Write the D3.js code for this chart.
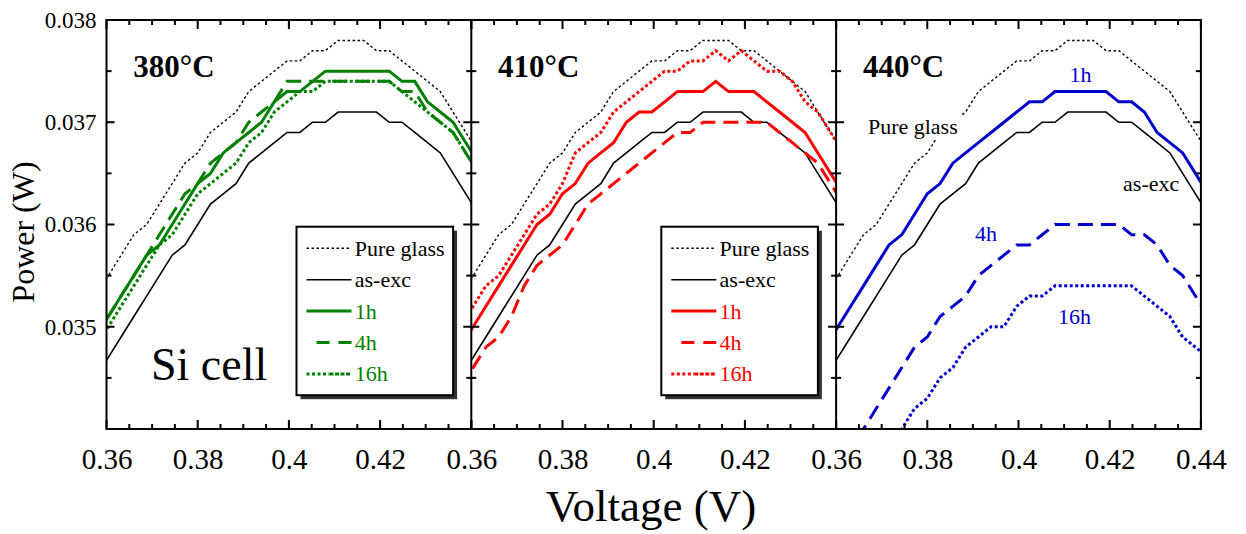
<!DOCTYPE html>
<html><head><meta charset="utf-8">
<script src="https://cdn.jsdelivr.net/npm/d3@7"></script>
<style>
body{margin:0;background:#fff}
svg{display:block}
text{font-family:"Liberation Serif","Times New Roman",serif}
</style>
</head><body>
<svg id="c" width="1246" height="534"></svg>
<script>
// ---------- data ----------
const voltage = [0.3576,0.3604,0.3632,0.3660,0.3688,0.3716,0.3744,0.3772,0.3800,0.3828,0.3856,0.3884,0.3912,0.3940,0.3968,0.3996,0.4024,0.4052,0.4080,0.4108,0.4136,0.4164,0.4192,0.4220,0.4248,0.4276,0.4304,0.4332,0.4360,0.4388,0.4416];

const pureGlass = [0.0353,0.0355,0.0357,0.0359,0.0360,0.0362,0.0364,0.0366,0.0367,0.0369,0.0370,0.0371,0.0373,0.0374,0.0375,0.0376,0.0376,0.0377,0.0377,0.0378,0.0378,0.0378,0.0377,0.0377,0.0376,0.0375,0.0374,0.0373,0.0371,0.0369,0.0367];
const asExc     = [0.0345,0.0347,0.0349,0.0351,0.0353,0.0355,0.0357,0.0358,0.0360,0.0362,0.0363,0.0364,0.0366,0.0367,0.0368,0.0369,0.0369,0.0370,0.0370,0.0371,0.0371,0.0371,0.0371,0.0370,0.0370,0.0369,0.0368,0.0367,0.0365,0.0363,0.0361];

const t380_1h  = [0.0349,0.0351,0.0353,0.0355,0.0357,0.0358,0.0360,0.0362,0.0364,0.0365,0.0367,0.0368,0.0369,0.0370,0.0372,0.0373,0.0373,0.0374,0.0375,0.0375,0.0375,0.0375,0.0375,0.0375,0.0374,0.0374,0.0372,0.0371,0.0370,0.0368,0.0366];
const t380_4h  = [0.0349,0.0351,0.0353,0.0355,0.0357,0.0359,0.0361,0.0363,0.0364,0.0366,0.0367,0.0368,0.0370,0.0371,0.0372,0.0374,0.0374,0.0374,0.0374,0.0374,0.0374,0.0374,0.0374,0.0374,0.0373,0.0373,0.0371,0.0370,0.0369,0.0367,0.0365];
const t380_16h = [0.0348,0.0350,0.0352,0.0354,0.0356,0.0358,0.0359,0.0361,0.0363,0.0364,0.0365,0.0366,0.0368,0.0369,0.0371,0.0372,0.0373,0.0373,0.0374,0.0374,0.0374,0.0374,0.0374,0.0374,0.0373,0.0372,0.0371,0.0370,0.0369,0.0367,0.0365];

const t410_1h  = [0.0348,0.0350,0.0352,0.0354,0.0356,0.0358,0.0360,0.0361,0.0363,0.0364,0.0366,0.0367,0.0368,0.0370,0.0371,0.0371,0.0372,0.0373,0.0373,0.0373,0.0374,0.0373,0.0373,0.0373,0.0372,0.0371,0.0370,0.0369,0.0367,0.0365,0.0363];
const t410_4h  = [0.0344,0.0346,0.0348,0.0349,0.0351,0.0354,0.0356,0.0357,0.0358,0.0360,0.0362,0.0363,0.0364,0.0365,0.0366,0.0367,0.0368,0.0369,0.0369,0.0370,0.0370,0.0370,0.0370,0.0370,0.0370,0.0369,0.0368,0.0367,0.0366,0.0364,0.0362];
const t410_16h = [0.0350,0.0352,0.0354,0.0355,0.0357,0.0359,0.0361,0.0362,0.0364,0.0367,0.0368,0.0369,0.0371,0.0372,0.0373,0.0374,0.0375,0.0375,0.0376,0.0376,0.0377,0.0376,0.0377,0.0376,0.0375,0.0375,0.0374,0.0372,0.0371,0.0369,0.0367];

const t440_1h  = [0.0348,0.0350,0.0352,0.0354,0.0356,0.0358,0.0359,0.0361,0.0363,0.0364,0.0366,0.0367,0.0368,0.0369,0.0370,0.0371,0.0372,0.0372,0.0373,0.0373,0.0373,0.0373,0.0373,0.0372,0.0372,0.0371,0.0369,0.0368,0.0367,0.0365,0.0363];
const t440_4h  = [0.0336,0.0337,0.0339,0.0340,0.0342,0.0344,0.0346,0.0348,0.0349,0.0351,0.0352,0.0353,0.0355,0.0356,0.0357,0.0358,0.0358,0.0359,0.0360,0.0360,0.0360,0.0360,0.0360,0.0360,0.0359,0.0359,0.0358,0.0356,0.0355,0.0353,0.0351];
const t440_16h = [0.0328,0.0330,0.0332,0.0334,0.0336,0.0338,0.0340,0.0342,0.0343,0.0345,0.0346,0.0348,0.0349,0.0350,0.0350,0.0352,0.0353,0.0353,0.0354,0.0354,0.0354,0.0354,0.0354,0.0354,0.0354,0.0353,0.0352,0.0351,0.0349,0.0348,0.0347];

const panelTitles = ["380\u00B0C","410\u00B0C","440\u00B0C"];
const panelColors = ["#008000","#ff0000","#0000cc"];
const seriesNames = ["Pure glass","as-exc","1h","4h","16h"];
const xTickLabelsShort = [0.36,0.38,0.40,0.42];
const xTickLabelsLast  = [0.36,0.38,0.40,0.42,0.44];
const yTickLabels = [0.035,0.036,0.037,0.038];
const xMinorTicks = [0.365,0.37,0.375,0.385,0.39,0.395,0.405,0.41,0.415,0.425,0.43,0.435];
const xMajorTicks = [0.36,0.38,0.40,0.42,0.44];
const yMinorTicks = [0.0345,0.0355,0.0365,0.0375];
const yMajorTicks = [0.034,0.035,0.036,0.037,0.038];

// ---------- layout ----------
const svg = d3.select("#c");
const TOP = 20, BOTTOM = 429, LEFT0 = 106.5, PW = 364.8;
const y = d3.scaleLinear().domain([0.034,0.038]).range([BOTTOM,TOP]);

const panelSeries = [
  [t380_1h,t380_4h,t380_16h],
  [t410_1h,t410_4h,t410_16h],
  [t440_1h,t440_4h,t440_16h]
];

const styles = {
  pure:{w:1.4,dash:"2.5,2.5"},
  asexc:{w:1.6,dash:null},
  h1:{w:3,dash:null},
  h4:{w:3,dash:"15,8"},
  h16:{w:3,dash:"3,2.5"}
};

const defs = svg.append("defs");
const panelLayer = svg.append("g");

panelSeries.forEach((ser,p)=>{
  const x0 = LEFT0 + p*PW;
  const xs = d3.scaleLinear().domain([0.36,0.44]).range([x0,x0+PW]);
  const col = panelColors[p];
  const lineGen = d3.line().x((d,i)=>xs(voltage[i])).y(d=>y(d));

  defs.append("clipPath").attr("id","clip"+p)
    .append("rect").attr("x",x0).attr("y",TOP).attr("width",PW).attr("height",BOTTOM-TOP);

  const g = panelLayer.append("g");
  const plot = g.append("g").attr("clip-path","url(#clip"+p+")");

  const draw = (data,color,st)=>{
    plot.append("path").datum(data).attr("d",lineGen)
      .attr("fill","none").attr("stroke",color).attr("stroke-width",st.w)
      .attr("stroke-linejoin","miter").attr("stroke-dasharray",st.dash);
  };
  draw(pureGlass,"#000",styles.pure);
  draw(asExc,"#000",styles.asexc);
  draw(ser[2],col,styles.h16);
  draw(ser[1],col,styles.h4);
  draw(ser[0],col,styles.h1);

  // x tick labels
  const xl = g.append("g").attr("transform",`translate(0,${BOTTOM})`)
    .call(d3.axisBottom(xs).tickValues(p===2?xTickLabelsLast:xTickLabelsShort)
      .tickSize(0).tickPadding(19).tickFormat(d=>String(+d.toFixed(2))));
  xl.select(".domain").remove();
  xl.attr("font-family",null);
  xl.selectAll("text").attr("font-size",29).attr("fill","#000");

  // panel title
  g.append("text").attr("x",x0+26.8).attr("y",77).attr("font-size",31).attr("font-weight","bold")
    .text(panelTitles[p]);

  // legend (panels 1 and 2)
  if(p<2){
    const lx = x0+190, ly = 226.7, lw = 156.6, lh = 168.5;
    g.append("rect").attr("x",lx+4).attr("y",ly+4).attr("width",lw).attr("height",lh).attr("fill","#333");
    g.append("rect").attr("x",lx).attr("y",ly).attr("width",lw).attr("height",lh)
      .attr("fill","#fff").attr("stroke","#000").attr("stroke-width",2);
    const rows = [
      {name:seriesNames[0],c:"#000",st:styles.pure,x1:10},
      {name:seriesNames[1],c:"#000",st:styles.asexc,x1:10},
      {name:seriesNames[2],c:col,st:styles.h1,x1:10},
      {name:seriesNames[3],c:col,st:{w:3,dash:"13,9"},x1:20},
      {name:seriesNames[4],c:col,st:styles.h16,x1:10}
    ];
    rows.forEach((r,i)=>{
      const ry = ly + 21.6 + i*31.4;
      if(i===4){
        g.append("line").attr("x1",lx+r.x1).attr("x2",lx+33).attr("y1",ry).attr("y2",ry)
          .attr("stroke",r.c).attr("stroke-width",r.st.w).attr("stroke-dasharray",r.st.dash);
        g.append("line").attr("x1",lx+33).attr("x2",lx+55).attr("y1",ry).attr("y2",ry)
          .attr("stroke",r.c).attr("stroke-width",r.st.w).attr("stroke-dasharray","4,1.5");
      } else {
        g.append("line").attr("x1",lx+r.x1).attr("x2",lx+55).attr("y1",ry).attr("y2",ry)
          .attr("stroke",r.c).attr("stroke-width",r.st.w).attr("stroke-dasharray",r.st.dash);
      }
      g.append("text").attr("x",lx+58.3).attr("y",ry+7.5).attr("font-size",22)
        .attr("fill",r.c).text(r.name);
    });
  }
});

// frame
svg.append("rect").attr("x",LEFT0).attr("y",TOP).attr("width",3*PW).attr("height",BOTTOM-TOP)
  .attr("fill","none").attr("stroke","#000").attr("stroke-width",2);
[1,2].forEach(k=>{
  svg.append("line").attr("x1",LEFT0+k*PW).attr("x2",LEFT0+k*PW).attr("y1",TOP).attr("y2",BOTTOM)
    .attr("stroke","#000").attr("stroke-width",2);
});

// inward ticks on all four sides of each panel
const tickLayer = svg.append("g").attr("class","ticks");
[0,1,2].forEach(p=>{
  const x0 = LEFT0 + p*PW;
  const xs = d3.scaleLinear().domain([0.36,0.44]).range([x0,x0+PW]);
  [[xMajorTicks,9],[xMinorTicks,5]].forEach(([vals,len])=>{
    vals.forEach(v=>{
      tickLayer.append("line").attr("x1",xs(v)).attr("x2",xs(v)).attr("y1",BOTTOM).attr("y2",BOTTOM-len)
        .attr("stroke","#000").attr("stroke-width",2);
      tickLayer.append("line").attr("x1",xs(v)).attr("x2",xs(v)).attr("y1",TOP).attr("y2",TOP+len)
        .attr("stroke","#000").attr("stroke-width",2);
    });
  });
  [[yMajorTicks,8],[yMinorTicks,5]].forEach(([vals,len])=>{
    vals.forEach(v=>{
      tickLayer.append("line").attr("x1",x0).attr("x2",x0+len).attr("y1",y(v)).attr("y2",y(v))
        .attr("stroke","#000").attr("stroke-width",2);
      tickLayer.append("line").attr("x1",x0+PW).attr("x2",x0+PW-len).attr("y1",y(v)).attr("y2",y(v))
        .attr("stroke","#000").attr("stroke-width",2);
    });
  });
});

// y tick labels
const yl = svg.append("g").attr("transform",`translate(${LEFT0},0)`)
  .call(d3.axisLeft(y).tickValues(yTickLabels).tickSize(0).tickPadding(10).tickFormat(d3.format(".3f")));
yl.select(".domain").remove();
yl.attr("font-family",null);
yl.selectAll("text").attr("font-size",23).attr("fill","#000");

// "Si cell"
svg.append("text").attr("x",151).attr("y",380).attr("font-size",46).text("Si cell");

// Panel 3 annotations
const x3 = LEFT0 + 2*PW;
const blue = panelColors[2];
const ann = svg.append("g");
const pgBg = ann.append("rect").attr("fill","#fff");
const pgLabel = ann.append("text").attr("x",x3+31.8).attr("y",133.5).attr("font-size",22).text(seriesNames[0]);
const bb = pgLabel.node().getBBox();
pgBg.attr("x",bb.x-1).attr("y",bb.y+2).attr("width",bb.width+4).attr("height",bb.height-2);
ann.append("text").attr("x",x3+233.5).attr("y",81.5).attr("font-size",22).attr("fill",blue).text(seriesNames[2]);
ann.append("text").attr("x",x3+287).attr("y",191).attr("font-size",22).text(seriesNames[1]);
ann.append("text").attr("x",x3+138.8).attr("y",241).attr("font-size",22).attr("fill",blue).text(seriesNames[3]);
ann.append("text").attr("x",x3+222).attr("y",324).attr("font-size",22).attr("fill",blue).text(seriesNames[4]);

// axis titles
svg.append("text").attr("x",651).attr("y",521).attr("text-anchor","middle").attr("font-size",45).text("Voltage (V)");
svg.append("text").attr("transform","translate(34,232) rotate(-90)").attr("text-anchor","middle")
  .attr("font-size",32).text("Power (W)");
</script>
</body></html>
